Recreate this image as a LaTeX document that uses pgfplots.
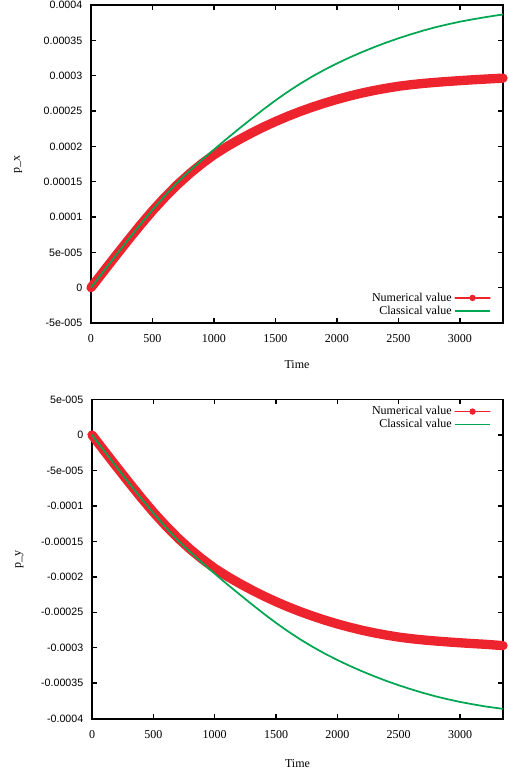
\documentclass[border=0pt]{standalone}
\usepackage{fontspec}
\setmainfont{Liberation Serif}
\newfontfamily\ticksans{Liberation Sans}
\usepackage{pgfplots}
\usepackage{pgfplotstable}
\pgfplotsset{compat=1.18}
\definecolor{numred}{RGB}{237,36,46}
\definecolor{clsgreen}{RGB}{0,166,81}

% numerical (red) and classical (green) momentum, read off the figure
\pgfplotstableread{
t     px         py
0     0          0
100   2.25e-5    -2.25e-5
200   4.48e-5    -4.48e-5
300   6.68e-5    -6.68e-5
400   8.83e-5    -8.83e-5
500   10.88e-5   -10.88e-5
600   12.78e-5   -12.78e-5
700   14.53e-5   -14.53e-5
800   16.11e-5   -16.11e-5
900   17.53e-5   -17.53e-5
1000  18.81e-5   -18.81e-5
1100  19.91e-5   -19.91e-5
1200  20.91e-5   -20.91e-5
1300  21.84e-5   -21.84e-5
1400  22.71e-5   -22.71e-5
1500  23.51e-5   -23.51e-5
1600  24.25e-5   -24.25e-5
1700  24.93e-5   -24.93e-5
1800  25.55e-5   -25.55e-5
1900  26.12e-5   -26.12e-5
2000  26.64e-5   -26.64e-5
2100  27.11e-5   -27.11e-5
2200  27.53e-5   -27.53e-5
2300  27.90e-5   -27.90e-5
2400  28.22e-5   -28.22e-5
2500  28.50e-5   -28.50e-5
2600  28.72e-5   -28.72e-5
2700  28.90e-5   -28.90e-5
2800  29.05e-5   -29.05e-5
2900  29.18e-5   -29.18e-5
3000  29.30e-5   -29.30e-5
3100  29.41e-5   -29.41e-5
3200  29.51e-5   -29.51e-5
3350  29.65e-5   -29.70e-5
}\numtab
\pgfplotstableread{
t     px         py
0     0          0
100   2.27e-5    -2.27e-5
200   4.52e-5    -4.52e-5
300   6.74e-5    -6.74e-5
400   8.92e-5    -8.92e-5
500   11.02e-5   -11.02e-5
600   13.00e-5   -13.00e-5
700   14.85e-5   -14.85e-5
800   16.50e-5   -16.50e-5
900   18.05e-5   -18.05e-5
1000  19.55e-5   -19.55e-5
1100  21.02e-5   -21.02e-5
1200  22.44e-5   -22.44e-5
1300  23.84e-5   -23.84e-5
1400  25.20e-5   -25.20e-5
1500  26.50e-5   -26.50e-5
1600  27.72e-5   -27.72e-5
1700  28.85e-5   -28.85e-5
1800  29.89e-5   -29.89e-5
1900  30.85e-5   -30.85e-5
2000  31.73e-5   -31.73e-5
2100  32.55e-5   -32.55e-5
2200  33.31e-5   -33.31e-5
2300  34.02e-5   -34.02e-5
2400  34.68e-5   -34.68e-5
2500  35.29e-5   -35.29e-5
2600  35.85e-5   -35.85e-5
2700  36.37e-5   -36.37e-5
2800  36.85e-5   -36.85e-5
2900  37.26e-5   -37.26e-5
3000  37.64e-5   -37.64e-5
3100  37.96e-5   -37.96e-5
3200  38.26e-5   -38.26e-5
3300  38.53e-5   -38.50e-5
3350  38.66e-5   -38.62e-5
}\clstab

\pgfplotsset{
  gnu/.style={
    scale only axis,
    xmin=0,xmax=3350,
    scaled y ticks=false,scaled x ticks=false,
    axis line style={line width=1.3pt},
    major tick style={black,line width=1.1pt},
    major tick length=3.5pt,
    tick align=inside,
    xtick={0,500,1000,1500,2000,2500,3000},
    xticklabels={0,500,1000,1500,2000,2500,3000},
    xticklabel style={font=\fontsize{9}{10}\selectfont,yshift=-5pt},
    yticklabel style={font=\ticksans\fontsize{8}{9}\selectfont,xshift=-3pt},
    xlabel={Time},
    xlabel style={font=\fontsize{9}{10}\selectfont,at={(axis description cs:0.5,-0.132)},anchor=center},
    ylabel style={font=\fontsize{9}{10}\selectfont,at={(axis description cs:-0.177,0.5)},anchor=center},
    legend style={draw=none,fill=none,font=\fontsize{9}{10}\selectfont,
      legend cell align=right,row sep=-2pt},
    legend plot pos=right,
    clip=false,
  },
  numleg/.style={legend image code/.code={
    \draw[numred,line width=1.2pt] (0pt,0pt) -- (26pt,0pt);
    \path[fill=numred,draw=none] (13pt,0pt) circle (2.4pt);}},
  clsleg/.style={legend image code/.code={
    \draw[clsgreen,line width=1.3pt] (0pt,0pt) -- (26pt,0pt);}},
}

\begin{document}
\begin{tikzpicture}
\begin{axis}[gnu,
  at={(68.25pt,-3.75pt)},anchor=north west,
  width=309pt,height=238.5pt,
  ymin=-5e-5,ymax=4e-4,
  ytick={-5e-5,0,5e-5,1e-4,1.5e-4,2e-4,2.5e-4,3e-4,3.5e-4,4e-4},
  yticklabels={-5e-005,0,5e-005,0.0001,0.00015,0.0002,0.00025,0.0003,0.00035,0.0004},
  ylabel={p\_x},
  legend style={at={(1,0)},anchor=south east,xshift=-6pt,yshift=1pt},
]
\addplot[numred,line width=7pt,line cap=round,line join=round,numleg] table[x=t,y=px] {\numtab};
\addlegendentry{Numerical value}
\addplot[clsgreen,line width=1.3pt,clsleg] table[x=t,y=px] {\clstab};
\addlegendentry{Classical value}
\end{axis}

\begin{axis}[gnu,
  at={(69pt,-299.6pt)},anchor=north west,
  width=308.25pt,height=239.4pt,
  ymin=-4e-4,ymax=5e-5,
  ytick={-4e-4,-3.5e-4,-3e-4,-2.5e-4,-2e-4,-1.5e-4,-1e-4,-5e-5,0,5e-5},
  yticklabels={-0.0004,-0.00035,-0.0003,-0.00025,-0.0002,-0.00015,-0.0001,-5e-005,0,5e-005},
  ylabel={p\_y},
  xlabel style={at={(axis description cs:0.5,-0.14)}},
  legend style={at={(1,1)},anchor=north east,xshift=-6pt,yshift=-1pt},
]
\addplot[numred,line width=7pt,line cap=round,line join=round,numleg] table[x=t,y=py] {\numtab};
\addlegendentry{Numerical value}
\addplot[clsgreen,line width=1.3pt,clsleg] table[x=t,y=py] {\clstab};
\addlegendentry{Classical value}
\end{axis}
\pgfresetboundingbox
\path (0pt,0pt) rectangle (381pt,-577.5pt);
\end{tikzpicture}
\end{document}
